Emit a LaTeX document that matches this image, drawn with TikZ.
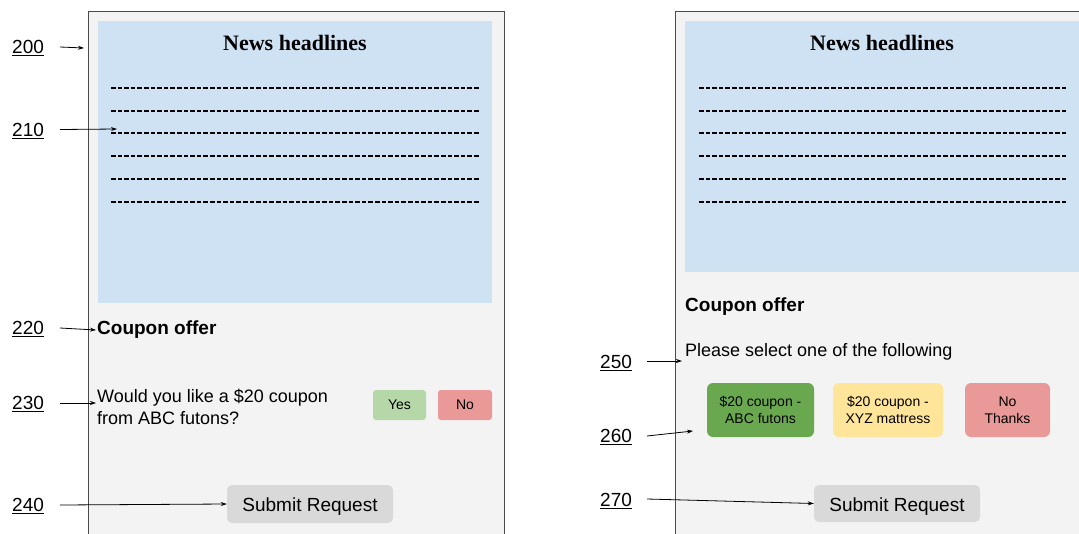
\documentclass[tikz,border=0pt]{standalone}
\usepackage{fontspec}
\setmainfont{Liberation Sans}
\newfontfamily\headserif{Liberation Serif}
\usetikzlibrary{arrows.meta}
\definecolor{panelbg}{HTML}{F3F3F3}
\definecolor{newsblue}{HTML}{CFE2F3}
\definecolor{yesgreen}{HTML}{B6D7A8}
\definecolor{nored}{HTML}{EA9999}
\definecolor{btngray}{HTML}{D9D9D9}
\definecolor{darkgreen}{HTML}{6AA84F}
\definecolor{paleyellow}{HTML}{FFE599}
\definecolor{framegray}{HTML}{4A4A4A}
\begin{document}
\begin{tikzpicture}[x=1pt,y=-1pt,
  frame/.style={draw=framegray,line width=1pt,fill=panelbg},
  newsbox/.style={fill=newsblue},
  headline/.style={font=\headserif\bfseries\fontsize{22}{24}\selectfont},
  dashline/.style={line width=1.3pt,dash pattern=on 4.6pt off 2pt},
  reflabel/.style={anchor=west,inner sep=0pt,font=\fontsize{19}{21}\selectfont},
  arr/.style={line width=0.8pt,-{Stealth[length=6pt,width=4pt]}},
  heading/.style={anchor=west,inner sep=1pt,font=\bfseries\fontsize{19}{21}\selectfont},
  bodytext/.style={anchor=west,inner sep=1pt,align=left,font=\fontsize{18}{22}\selectfont},
  smallbtn/.style={rounded corners=3pt,inner sep=0pt,align=center,font=\fontsize{14}{16.5}\selectfont},
  submitbtn/.style={fill=btngray,rounded corners=5pt,inner sep=0pt,minimum width=166pt,
    text height=15.6pt,text depth=0pt,font=\fontsize{19}{21}\selectfont}
]
\useasboundingbox (0,0) rectangle (1079,533);
\clip (0,0) rectangle (1079,533);

% ---------- left panel ----------
\draw[frame] (88,11) rectangle (504,560);
\fill[newsbox] (98,21) rectangle (492,303);
\node[headline] (newsL) at (295,43) {News headlines};
\foreach \yy in {88,111,133,156,179,202}
  \draw[dashline] (111,\yy) -- (479,\yy);

\node[reflabel] (l200) at (12,48) {\underline{200}};
\node[reflabel] (l210) at (12,131) {\underline{210}};
\node[reflabel] (l220) at (12,329) {\underline{220}};
\node[reflabel] (l230) at (12,404) {\underline{230}};
\node[reflabel] (l240) at (12,506) {\underline{240}};

\coordinate (t200) at (84,48);
\coordinate (t210) at (117,129);

\node[heading] (couponL) at (96,330) {Coupon offer};
\node[bodytext] (question) at (96,407) {Would you like a \$20 coupon\\from ABC futons?};
\node[smallbtn,fill=yesgreen,minimum width=53pt,minimum height=30pt] (yes) at (399.5,405) {Yes};
\node[smallbtn,fill=nored,minimum width=54pt,minimum height=30pt] (no) at (465,405) {No};
\node[submitbtn,minimum height=38pt] (submitL) at (310,504) {Submit Request};

\draw[arr] (60,47) -- (t200);
\draw[arr] (60,129.5) -- (t210);
\draw[arr] (60,328) -- (couponL.west);
\draw[arr] (60,403) -- ([yshift=4pt]question.west);
\draw[arr] (60,505) -- (submitL.west);

% ---------- right panel ----------
\draw[frame] (675,11) rectangle (1100,560);
\fill[newsbox] (685,21) rectangle (1100,272);
\node[headline] (newsR) at (882,43) {News headlines};
\foreach \yy in {88,111,133,156,179,202}
  \draw[dashline] (699,\yy) -- (1066,\yy);

\node[heading] (couponR) at (684,307) {Coupon offer};
\node[bodytext] (please) at (684,352) {Please select one of the following};

\node[smallbtn,fill=darkgreen,rounded corners=6pt,minimum width=107pt,minimum height=54pt] (optA) at (760.5,410) {\$20 coupon -\\ABC futons};
\node[smallbtn,fill=paleyellow,rounded corners=6pt,minimum width=110pt,minimum height=54pt] (optB) at (888,410) {\$20 coupon -\\XYZ mattress};
\node[smallbtn,fill=nored,rounded corners=6pt,minimum width=85pt,minimum height=54pt] (optC) at (1007.5,410) {No\\Thanks};
\node[submitbtn,minimum height=37pt] (submitR) at (897,503.5) {Submit Request};

\node[reflabel] (l250) at (600,363) {\underline{250}};
\node[reflabel] (l260) at (600,437) {\underline{260}};
\node[reflabel] (l270) at (600,501) {\underline{270}};

\coordinate (t250) at (682,361);
\coordinate (t260) at (693,431);

\draw[arr] (647,361) -- (t250);
\draw[arr] (647,436) -- (t260);
\draw[arr] (647,499) -- (submitR.west);
\end{tikzpicture}
\end{document}
